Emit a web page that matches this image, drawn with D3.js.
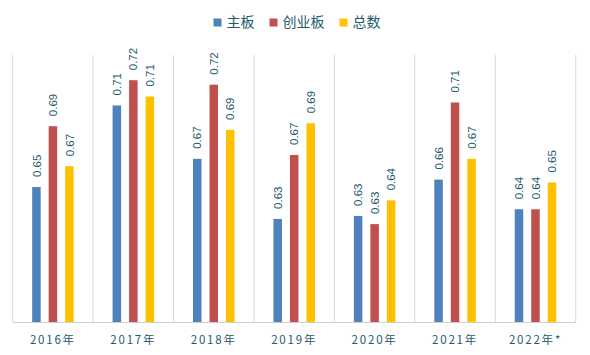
<!DOCTYPE html>
<html><head><meta charset="utf-8">
<script src="https://cdn.jsdelivr.net/npm/d3@7"></script>
<style>body{margin:0;background:#fff}svg{display:block}</style>
</head><body><div id="c"></div>
<script>
const categories = ["2016年","2017年","2018年","2019年","2020年","2021年","2022年*"];
const seriesNames = ["主板","创业板","总数"];
const mainBoard = [0.651,0.706,0.670,0.6295,0.6315,0.656,0.636];
const chinext   = [0.692,0.723,0.720,0.6726,0.626,0.708,0.636];
const total     = [0.665,0.712,0.6895,0.694,0.642,0.670,0.654];
const labelsMain = ["0.65","0.71","0.67","0.63","0.63","0.66","0.64"];
const labelsChi  = ["0.69","0.72","0.72","0.67","0.63","0.71","0.64"];
const labelsTot  = ["0.67","0.71","0.69","0.69","0.64","0.67","0.65"];
const colors = ["#4f81bd","#c0504d","#ffc000"];

const W=590,H=355;
const textColor="#245b6b";
const svg=d3.select("#c").append("svg").attr("width",W).attr("height",H);
const x=d3.scaleBand().domain(categories).range([12.7,575.7]).padding(0);
const y=d3.scaleLinear().domain([0.56,0.74]).range([322,55]);
const sub=d3.scaleBand().domain([0,1,2]).range([-24.75,24.75]).paddingInner(0.97);
const barW=8.5, step=16.5;

// grid lines at category boundaries
const bounds=categories.map(c=>x(c)).concat([x.range()[1]]);
svg.append("g").selectAll("line").data(bounds).join("line")
  .attr("x1",d=>d).attr("x2",d=>d).attr("y1",55).attr("y2",322)
  .attr("stroke","#d9d9d9").attr("stroke-width",1);
svg.append("line").attr("x1",x.range()[0]).attr("x2",x.range()[1]).attr("y1",322.5).attr("y2",322.5)
  .attr("stroke","#d0d0d0").attr("stroke-width",1.2);

const series=[mainBoard,chinext,total];
const labels=[labelsMain,labelsChi,labelsTot];
series.forEach((vals,si)=>{
  const g=svg.append("g");
  const cx=(i)=>x(categories[i])+x.bandwidth()/2+(si-1)*step;
  g.selectAll("rect").data(vals).join("rect")
    .attr("x",(d,i)=>cx(i)-barW/2).attr("width",barW)
    .attr("y",d=>y(d)).attr("height",d=>y(0.56)-y(d))
    .attr("fill",colors[si]);
  g.selectAll("text").data(vals).join("text")
    .attr("transform",(d,i)=>`translate(${cx(i)},${y(d)-10}) rotate(-90)`)
    .attr("dy","0.36em").attr("text-anchor","start")
    .attr("font-family","'Liberation Sans',Arial,sans-serif").attr("font-size",11.5)
    .attr("fill",textColor).text((d,i)=>labels[si][i]);
});

// x labels
svg.append("g").selectAll("text").data(categories).join("text")
  .attr("x",d=>x(d)+x.bandwidth()/2).attr("y",344)
  .attr("text-anchor","middle").attr("font-family","'Noto Sans CJK SC',sans-serif")
  .attr("font-size",11.5).attr("letter-spacing","1.8px").attr("fill",textColor).text(d=>d);

// legend
const lg=svg.append("g");
let cxl=0;
const items=[];
seriesNames.forEach((n,i)=>{
  const it=lg.append("g").attr("transform",`translate(${cxl},0)`);
  it.append("rect").attr("x",0).attr("y",-4).attr("width",8).attr("height",8).attr("fill",colors[i]);
  const t=it.append("text").attr("x",13).attr("y",0).attr("dy","0.35em")
    .attr("font-family","'Noto Sans CJK SC',sans-serif").attr("font-size",14).attr("fill",textColor).text(n);
  const w=13+t.node().getComputedTextLength();
  cxl+=w+(i<seriesNames.length-1?15:0);
});
lg.attr("transform",`translate(${(W-cxl)/2+2},22.5)`);
</script></body></html>
